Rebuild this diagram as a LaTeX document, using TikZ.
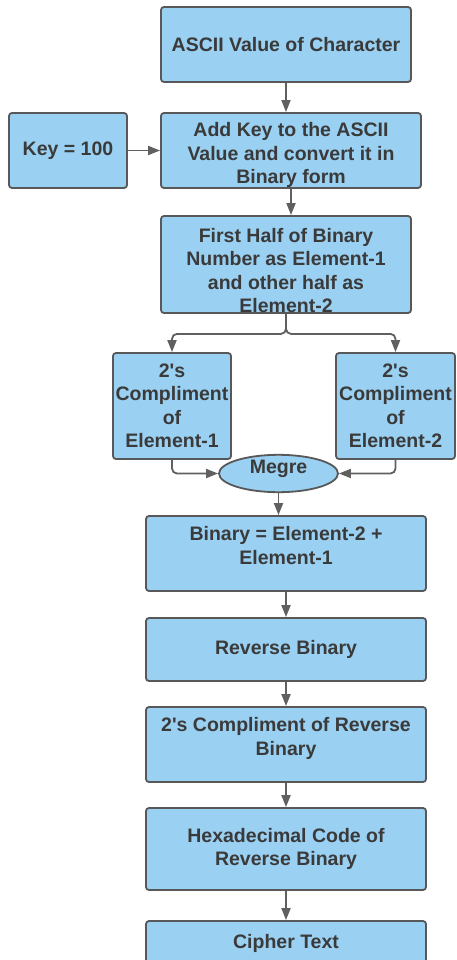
\documentclass[tikz,border=0pt]{standalone}
\usepackage{fontspec}
\setmainfont{Liberation Sans}
\usetikzlibrary{arrows.meta, positioning, shapes.geometric}

\definecolor{boxfill}{RGB}{154,208,242}
\definecolor{boxline}{RGB}{88,88,88}
\definecolor{txtgray}{RGB}{58,58,58}
\definecolor{arrgray}{RGB}{96,96,96}

% apostrofo dritto e spessori per spostare il testo nei blocchi
\newcommand{\apos}{\textquotesingle}
\newcommand{\padtop}[1]{\rule{0pt}{#1}}
\newcommand{\padbot}[1]{\rule[-#1]{0pt}{#1}}

\tikzset{
	stepbox/.style={draw=boxline, fill=boxfill, line width=1.8pt, rounded corners=3pt,
		text=txtgray, align=center, inner sep=0pt,
		font=\bfseries\fontsize{19.5}{23.5}\selectfont},
	flow/.style={->, draw=arrgray, line width=1.8pt}
}

\begin{document}
\begin{tikzpicture}[x=1pt, y=-1pt, >={Triangle[length=12pt, width=9pt]}]
		
		% Area del disegno (in pixel)
		\clip (0,0) rectangle (456,960);
		
		% Blocchi principali
		\node[stepbox, minimum width=250pt, minimum height=75pt] (ascii) at (286,44.5) {ASCII Value of Character};
		\node[stepbox, minimum width=118pt, minimum height=75pt] (key) at (68,150.5) {Key = 100};
		\node[stepbox, minimum width=260pt, minimum height=75pt] (addkey) at (291,150.5) {\padtop{24pt}Add Key to the ASCII\\Value and convert it in\\Binary form};
		\node[stepbox, minimum width=250pt, minimum height=97pt] (half) at (286,264.5) {\padtop{26pt}First Half of Binary\\Number as Element-1\\and other half as\\Element-2};
		
		% Complementi dei due elementi
		\node[stepbox, minimum width=118pt, minimum height=106pt] (comp1) at (172,406) {2\apos s\\Compliment\\of\\Element-1};
		\node[stepbox, minimum width=119pt, minimum height=106pt] (comp2) at (395.5,406) {2\apos s\\Compliment\\of\\Element-2};
		\node[stepbox, ellipse, minimum width=119pt, minimum height=37pt] (merge) at (278.5,473.5) {\raisebox{13pt}{Megre}};
		
		% Catena finale
		\node[stepbox, minimum width=280pt, minimum height=75pt] (binary) at (286,553.5) {Binary = Element-2 +\\Element-1\padbot{16pt}};
		\node[stepbox, minimum width=280pt, minimum height=63pt] (rev) at (286,649.5) {Reverse Binary};
		\node[stepbox, minimum width=280pt, minimum height=75pt] (twos) at (286,744.5) {2\apos s Compliment of Reverse\\Binary\padbot{16pt}};
		\node[stepbox, minimum width=280pt, minimum height=82pt] (hex) at (286,849) {Hexadecimal Code of\\Reverse Binary};
		\node[stepbox, minimum width=280pt, minimum height=44pt] (cipher) at (286,943) {Cipher Text};
		
		% Collegamenti
		\draw[flow] (ascii.south) -- (ascii.south |- addkey.north);
		\draw[flow] (key.east) -- (addkey.west);
		\draw[flow] (addkey.south) -- (addkey.south |- half.north);
		\draw[flow, rounded corners=5pt] (half.south) -- ++(0,20) -| (comp1.north);
		\draw[flow, rounded corners=5pt] (half.south) -- ++(0,20) -| (comp2.north);
		\draw[flow, rounded corners=5pt] (comp1.south) |- (merge.west);
		\draw[flow, rounded corners=5pt] (comp2.south) |- (merge.east);
		\draw[flow] (merge.south) -- (merge.south |- binary.north);
		\draw[flow] (binary) -- (rev);
		\draw[flow] (rev) -- (twos);
		\draw[flow] (twos) -- (hex);
		\draw[flow] (hex) -- (cipher);
		
	\end{tikzpicture}
\end{document}
